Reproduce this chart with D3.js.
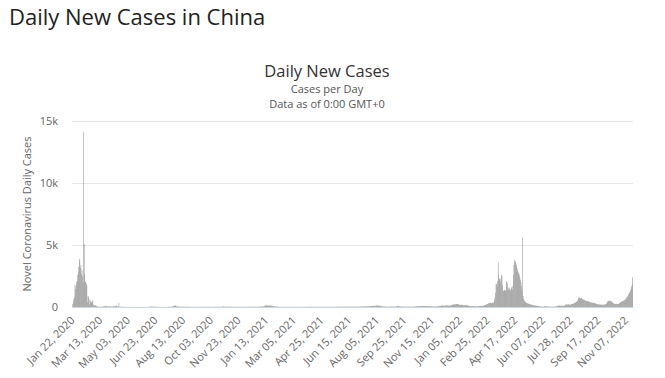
<!DOCTYPE html>
<html>
<head>
<meta charset="utf-8">
<script src="https://cdn.jsdelivr.net/npm/d3@7"></script>
<style>
  body { margin: 0; background: #fff; }
  #chart text { font-family: "Open Sans", "DejaVu Sans", sans-serif; }
</style>
</head>
<body>
<div id="chart"></div>
<script>
// first day of the series, one bar per day after that
var startDate = "2020-01-22";

// daily new cases, one line per month
var cases2020 = [
  0, 259, 444, 688, 769, 1771, 1459, 1737, 1981, 2099,
  2589, 2825, 3235, 3884, 3694, 3143, 3385, 2652, 2973, 2467, 2015, 14108, 5090, 2641, 2008, 2048, 1886, 1749, 394, 889, 823, 648, 214, 508, 406, 433, 327, 427, 573,
  202, 125, 119, 139, 143, 99, 44, 40, 19, 24, 15, 20, 11, 20, 16, 21, 13, 34, 39, 41, 46, 45, 103, 46, 54, 67, 55, 54, 31, 45, 48,
  35, 31, 31, 30, 39, 32, 62, 63, 42, 46, 99, 108, 89, 46, 26, 27, 352, 16, 12, 11, 30, 11, 10, 10, 11, 6, 3, 22, 4, 3,
  12, 2, 3, 1, 2, 2, 4, 1, 14, 17, 1, 7, 3, 4, 5, 8, 5, 6, 6, 3, 4, 3, 11, 3, 7, 1, 1, 2, 4, 2, 2,
  5, 16, 4, 5, 3, 5, 3, 8, 3, 3, 11, 11, 27, 29, 37, 30, 28, 25, 32, 26, 22, 13, 12, 19, 11, 17, 12, 14, 19, 3,
  5, 3, 5, 8, 7, 4, 5, 8, 8, 7, 8, 5, 7, 6, 4, 11, 16, 22, 16, 17, 14, 22, 22, 34, 46, 61, 68, 101, 105, 112, 127,
  45, 49, 43, 36, 27, 37, 28, 23, 22, 19, 25, 22, 19, 22, 22, 13, 17, 22, 22, 16, 22, 22, 20, 12, 15, 10, 9, 15, 7, 14, 9,
  10, 5, 11, 10, 10, 10, 10, 11, 7, 6, 7, 10, 10, 9, 12, 9, 32, 6, 14, 10, 13, 7, 10, 9, 9, 14, 21, 12, 21, 10,
  15, 10, 15, 10, 13, 11, 13, 15, 15, 10, 21, 27, 13, 14, 25, 24, 13, 15, 20, 16, 22, 15, 15, 11, 20, 42, 42, 22, 22, 19, 25,
  24, 23, 24, 28, 22, 33, 35, 22, 19, 19, 21, 17, 12, 16, 15, 18, 11, 17, 19, 14, 21, 17, 15, 20, 20, 18, 16, 14, 19, 10,
  15, 13, 14, 12, 15, 14, 16, 20, 15, 14, 16, 16, 16, 20, 14, 19, 17, 15, 11, 25, 25, 24, 14, 24, 10, 13, 20, 24, 16, 33, 20
];

var cases2021 = [
  24, 25, 33, 32, 32, 53, 63, 37, 33, 103, 55, 115, 138, 144, 130, 109, 118, 93, 103, 144, 88, 103, 107, 124, 79, 75, 54, 55, 53, 30, 33,
  42, 34, 27, 18, 17, 14, 11, 14, 13, 16, 14, 7, 9, 10, 8, 9, 11, 11, 7, 8, 10, 6, 8, 9, 11, 10, 9, 8,
  13, 11, 6, 9, 10, 7, 12, 15, 11, 15, 11, 9, 14, 10, 8, 11, 9, 10, 7, 12, 13, 11, 10, 16, 12, 15, 12, 13, 9, 11, 19,
  20, 18, 16, 11, 21, 19, 31, 23, 24, 13, 15, 19, 15, 12, 14, 15, 16, 17, 12, 11, 20, 13, 17, 13, 12, 14, 13, 12, 20, 10,
  13, 16, 13, 12, 15, 11, 14, 17, 15, 22, 14, 11, 12, 19, 14, 13, 10, 14, 20, 15, 17, 21, 19, 27, 14, 18, 25, 24, 29, 32, 24,
  23, 27, 29, 22, 24, 21, 20, 22, 35, 28, 20, 20, 23, 20, 18, 27, 25, 22, 31, 20, 23, 24, 21, 22, 18, 26, 17, 21, 19, 20,
  24, 18, 28, 21, 28, 29, 36, 47, 41, 45, 50, 36, 33, 39, 41, 53, 39, 60, 42, 48, 40, 53, 55, 73, 69, 76, 83, 87, 85, 75, 98,
  95, 91, 96, 107, 124, 125, 104, 98, 108, 110, 94, 85, 74, 69, 53, 42, 38, 40, 42, 39, 28, 25, 27, 24, 21, 20, 25, 19, 26, 28, 34,
  29, 23, 24, 30, 25, 28, 28, 31, 35, 32, 52, 78, 73, 74, 60, 58, 37, 48, 38, 42, 42, 32, 28, 29, 24, 30, 24, 22, 22, 28,
  22, 30, 25, 23, 25, 24, 20, 23, 22, 29, 29, 22, 26, 27, 34, 44, 48, 57, 54, 62, 65, 72, 63, 75, 66, 73, 80, 68, 76, 93, 60,
  66, 73, 89, 72, 62, 61, 55, 64, 70, 72, 60, 54, 47, 51, 40, 41, 34, 34, 30, 35, 30, 32, 31, 48, 54, 66, 55, 62, 86, 91,
  89, 107, 110, 114, 116, 105, 106, 95, 110, 116, 124, 140, 143, 120, 112, 95, 124, 112, 120, 130, 152, 185, 183, 195, 210, 198, 195, 227, 214, 236, 250
];

var cases2022 = [
  246, 231, 207, 192, 174, 170, 160, 165, 183, 173, 152, 141, 147, 139, 165, 120, 156, 125, 136, 110, 108, 98, 84, 72, 66, 64, 73, 66, 82, 65, 68,
  65, 48, 47, 52, 47, 43, 48, 52, 68, 62, 93, 91, 84, 76, 95, 88, 85, 110, 125, 140, 160, 180, 195, 210, 230, 260, 280, 300,
  320, 350, 330, 290, 310, 350, 320, 300, 420, 560, 780, 1150, 1900, 1850, 1700, 2100, 3600, 2600, 2300, 2200, 2000, 2300, 2600, 2500, 1800, 1300, 1300, 1350, 1400, 1300, 1350,
  2000, 2100, 1900, 1500, 1400, 1600, 1500, 1300, 1400, 1600, 1500, 1400, 1700, 2600, 3400, 3800, 3600, 3700, 3500, 3300, 3100, 2900, 2700, 2800, 2600, 2400, 2200, 2000, 1700, 1300,
  5600, 880, 640, 530, 470, 410, 390, 330, 320, 280, 290, 250, 240, 230, 200, 210, 180, 190, 160, 170, 140, 150, 120, 130, 100, 110, 90, 95, 80, 85, 70,
  60, 45, 40, 35, 30, 28, 25, 22, 30, 50, 65, 70, 60, 55, 40, 35, 30, 28, 25, 22, 20, 24, 26, 22, 20, 18, 20, 25, 30, 35,
  40, 50, 60, 80, 100, 110, 120, 110, 100, 95, 105, 110, 100, 90, 85, 90, 110, 150, 180, 200, 210, 190, 200, 220, 210, 180, 170, 190, 210, 230, 250,
  240, 260, 280, 300, 320, 350, 380, 420, 450, 480, 600, 700, 780, 760, 720, 690, 740, 700, 650, 620, 590, 610, 560, 530, 500, 480, 470, 500, 460, 450, 430,
  420, 400, 380, 360, 370, 350, 340, 330, 340, 320, 300, 290, 270, 260, 240, 230, 220, 210, 200, 210, 190, 180, 200, 190, 180, 170, 190, 180, 200, 220,
  230, 260, 300, 380, 450, 480, 500, 520, 490, 470, 460, 440, 400, 350, 300, 280, 260, 250, 240, 230, 250, 260, 240, 230, 250, 280, 320, 360, 400, 420, 450,
  470, 480, 500, 520, 560, 600, 650, 700, 780, 820, 900, 1000, 1100, 1150, 1250, 1350, 1500, 1700, 1900, 2400
];

var xTickLabels = ["Jan 22, 2020", "Mar 13, 2020", "May 03, 2020", "Jun 23, 2020", "Aug 13, 2020",
  "Oct 03, 2020", "Nov 23, 2020", "Jan 13, 2021", "Mar 05, 2021", "Apr 25, 2021", "Jun 15, 2021",
  "Aug 05, 2021", "Sep 25, 2021", "Nov 15, 2021", "Jan 05, 2022", "Feb 25, 2022", "Apr 17, 2022",
  "Jun 07, 2022", "Jul 28, 2022", "Sep 17, 2022", "Nov 07, 2022"];
var yTickValues = [0, 5000, 10000, 15000];
var yTickLabels = ["0", "5k", "10k", "15k"];

var values = cases2020.concat(cases2021, cases2022);
var parseDay = d3.timeParse("%Y-%m-%d");
var fmtDay = d3.timeFormat("%b %d, %Y");
var day0 = parseDay(startDate);
var dataset = values.map(function(v, i) {
    return {date: d3.timeDay.offset(day0, i), cases: v};
});

var svgW = 665, svgH = 378;
var margin = {top: 121, right: 32, bottom: 71, left: 72},
    width = svgW - margin.left - margin.right,
    height = svgH - margin.top - margin.bottom;

var svg = d3.select("#chart")
  .append("svg")
    .attr("width", svgW)
    .attr("height", svgH);

// page heading and chart titles
svg.append("text")
    .attr("x", 9).attr("y", 25)
    .style("font-size", "22px")
    .style("fill", "#222")
    .text("Daily New Cases in China");

svg.append("text")
    .attr("x", 327).attr("y", 77)
    .attr("text-anchor", "middle")
    .style("font-size", "16.5px")
    .style("fill", "#333")
    .text("Daily New Cases");
svg.append("text")
    .attr("x", 327).attr("y", 93)
    .attr("text-anchor", "middle")
    .style("font-size", "11px")
    .style("fill", "#555")
    .text("Cases per Day");
svg.append("text")
    .attr("x", 327).attr("y", 108)
    .attr("text-anchor", "middle")
    .style("font-size", "11px")
    .style("fill", "#555")
    .text("Data as of 0:00 GMT+0");

var g = svg.append("g")
    .attr("transform", "translate(" + margin.left + "," + margin.top + ")");

var x = d3.scaleBand()
    .domain(dataset.map(function(d) { return fmtDay(d.date); }))
    .range([0, width])
    .paddingInner(0.05);

var y = d3.scaleLinear()
    .domain([0, 15000])
    .range([height, 0]);

// grid lines
g.append("g")
    .attr("class", "grid")
    .call(d3.axisLeft(y).tickValues(yTickValues).tickSize(-width).tickFormat(""))
    .call(function(s) {
        s.select(".domain").remove();
        s.selectAll("line").attr("stroke", "#e6e6e6");
    });

// y labels
var yAxis = g.append("g")
    .call(d3.axisLeft(y).tickValues(yTickValues).tickSize(0).tickPadding(14)
        .tickFormat(function(d, i) { return yTickLabels[i]; }));
yAxis.select(".domain").remove();
yAxis.selectAll("text").style("font-size", "11px").style("fill", "#666");

svg.append("text")
    .attr("transform", "translate(31," + (margin.top + height / 2) + ") rotate(-90)")
    .attr("text-anchor", "middle")
    .style("font-size", "11px")
    .style("fill", "#666")
    .text("Novel Coronavirus Daily Cases");

// bars
g.selectAll("rect.bar")
    .data(dataset)
  .enter().append("rect")
    .attr("class", "bar")
    .attr("x", function(d) { return x(fmtDay(d.date)); })
    .attr("width", x.bandwidth())
    .attr("y", function(d) { return y(d.cases); })
    .attr("height", function(d) { return height - y(d.cases); })
    .attr("fill", "#8c8c8c");

// x axis
var xAxis = g.append("g")
    .attr("transform", "translate(0," + height + ")")
    .call(d3.axisBottom(x).tickValues(xTickLabels).tickSize(0).tickPadding(0));
xAxis.select(".domain").attr("stroke", "#ccd6eb");
xAxis.selectAll("text")
    .attr("y", 0).attr("dy", 0)
    .attr("text-anchor", "end")
    .attr("transform", "translate(3,14) rotate(-45)")
    .style("font-size", "11px")
    .style("fill", "#666");
</script>
</body>
</html>
